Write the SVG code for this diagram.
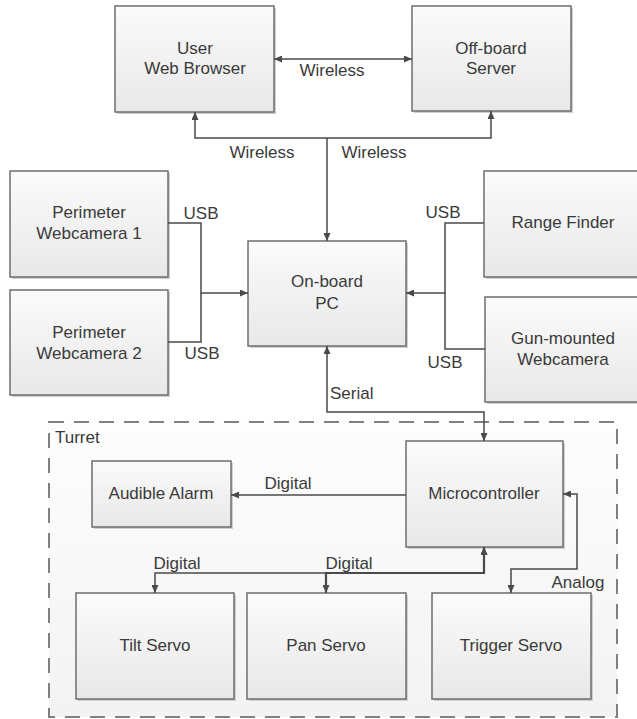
<svg xmlns="http://www.w3.org/2000/svg" width="637" height="719" viewBox="0 0 637 719">
<defs>
<linearGradient id="boxg" x1="0" y1="0" x2="0" y2="1">
<stop offset="0" stop-color="#fbfbfb"/>
<stop offset="1" stop-color="#e8e8e8"/>
</linearGradient>
<linearGradient id="contg" x1="0" y1="0" x2="0" y2="1">
<stop offset="0" stop-color="#fdfdfd"/>
<stop offset="1" stop-color="#f3f3f3"/>
</linearGradient>
<marker id="ah" viewBox="0 0 8 7" refX="8" refY="3.5" markerWidth="8" markerHeight="7" markerUnits="userSpaceOnUse" orient="auto-start-reverse">
<path d="M0,0 L8,3.5 L0,7 z" fill="#4a4a4a"/>
</marker>
</defs>
<style>
.box{fill:url(#boxg);stroke:#6e6e6e;stroke-width:1.5}
.sh{fill:#cfcfcf}
.t{font-family:"Liberation Sans",Arial,sans-serif;font-size:17px;fill:#3a3a3a;text-anchor:middle}
.l{font-family:"Liberation Sans",Arial,sans-serif;font-size:17px;fill:#3a3a3a}
.c{fill:none;stroke:#4a4a4a;stroke-width:1.5}
</style>
<rect width="637" height="719" fill="#ffffff"/>

<g id="turret">
<rect x="49" y="422" width="568" height="295" fill="url(#contg)" stroke="#808080" stroke-width="2" stroke-dasharray="15,10"/>
<text class="l" x="55" y="443">Turret</text>
</g>

<g id="user-web-browser">
<rect class="sh" x="117" y="8" width="159" height="106"/>
<rect class="box" x="115" y="6" width="159" height="106"/>
<text class="t" x="195" y="54">User</text>
<text class="t" x="195" y="74">Web Browser</text>
</g>
<g id="off-board-server">
<rect class="sh" x="414" y="8" width="159" height="105"/>
<rect class="box" x="412" y="6" width="159" height="105"/>
<text class="t" x="491" y="54">Off-board</text>
<text class="t" x="491" y="74">Server</text>
</g>
<g id="perimeter-webcamera-1">
<rect class="sh" x="12" y="173" width="158" height="106"/>
<rect class="box" x="10" y="171" width="158" height="106"/>
<text class="t" x="89" y="218">Perimeter</text>
<text class="t" x="89" y="239">Webcamera 1</text>
</g>
<g id="perimeter-webcamera-2">
<rect class="sh" x="12" y="292" width="158" height="105"/>
<rect class="box" x="10" y="290" width="158" height="105"/>
<text class="t" x="89" y="338">Perimeter</text>
<text class="t" x="89" y="359">Webcamera 2</text>
</g>
<g id="on-board-pc">
<rect class="sh" x="250" y="243" width="158" height="105"/>
<rect class="box" x="248" y="241" width="158" height="105"/>
<text class="t" x="327" y="287">On-board</text>
<text class="t" x="327" y="309">PC</text>
</g>
<g id="range-finder">
<rect class="sh" x="486" y="173" width="158" height="106"/>
<rect class="box" x="484" y="171" width="158" height="106"/>
<text class="t" x="563" y="228">Range Finder</text>
</g>
<g id="gun-mounted-webcamera">
<rect class="sh" x="487" y="299" width="158" height="105"/>
<rect class="box" x="485" y="297" width="158" height="105"/>
<text class="t" x="563" y="344">Gun-mounted</text>
<text class="t" x="563" y="365">Webcamera</text>
</g>
<g id="audible-alarm">
<rect class="sh" x="94" y="463" width="139" height="66"/>
<rect class="box" x="92" y="461" width="139" height="66"/>
<text class="t" x="161" y="499">Audible Alarm</text>
</g>
<g id="microcontroller">
<rect class="sh" x="408" y="443" width="157" height="106"/>
<rect class="box" x="406" y="441" width="157" height="106"/>
<text class="t" x="484" y="499">Microcontroller</text>
</g>
<g id="tilt-servo">
<rect class="sh" x="78" y="595" width="158" height="106"/>
<rect class="box" x="76" y="593" width="158" height="106"/>
<text class="t" x="155" y="651">Tilt Servo</text>
</g>
<g id="pan-servo">
<rect class="sh" x="249" y="595" width="159" height="106"/>
<rect class="box" x="247" y="593" width="159" height="106"/>
<text class="t" x="326" y="651">Pan Servo</text>
</g>
<g id="trigger-servo">
<rect class="sh" x="434" y="595" width="159" height="106"/>
<rect class="box" x="432" y="593" width="159" height="106"/>
<text class="t" x="511" y="651">Trigger Servo</text>
</g>

<g id="connectors">
<path class="c" d="M274,59 H412" marker-start="url(#ah)" marker-end="url(#ah)"/>
<path class="c" d="M327,138 V241" marker-end="url(#ah)"/>
<path class="c" d="M327,138 H195 V112" marker-end="url(#ah)"/>
<path class="c" d="M327,138 H491 V111" marker-end="url(#ah)"/>
<path class="c" d="M168,223 H201 V293 H248" marker-end="url(#ah)"/>
<path class="c" d="M168,342 H201 V293"/>
<path class="c" d="M484,223 H445 V293 H406" marker-end="url(#ah)"/>
<path class="c" d="M485,349 H445 V293"/>
<path class="c" d="M327,346 V412 H484 V441" marker-start="url(#ah)" marker-end="url(#ah)"/>
<path class="c" d="M406,495 H231" marker-end="url(#ah)"/>
<path class="c" d="M484,547 V573 H155 V593" marker-start="url(#ah)" marker-end="url(#ah)"/>
<path class="c" d="M484,547 V573 H326 V593" style="stroke-width:2.2" marker-start="url(#ah)" marker-end="url(#ah)"/>
<path class="c" d="M563,494 H577 V569 H511 V593" marker-start="url(#ah)" marker-end="url(#ah)"/>
<text class="t" x="332" y="76">Wireless</text>
<text class="t" x="262" y="158">Wireless</text>
<text class="t" x="374" y="158">Wireless</text>
<text class="t" x="201" y="219">USB</text>
<text class="t" x="202" y="359">USB</text>
<text class="t" x="443" y="218">USB</text>
<text class="t" x="445" y="368">USB</text>
<text class="l" x="330" y="399">Serial</text>
<text class="t" x="288" y="489">Digital</text>
<text class="t" x="177" y="569">Digital</text>
<text class="t" x="349" y="569">Digital</text>
<text class="t" x="578" y="588">Analog</text>
</g>
</svg>
